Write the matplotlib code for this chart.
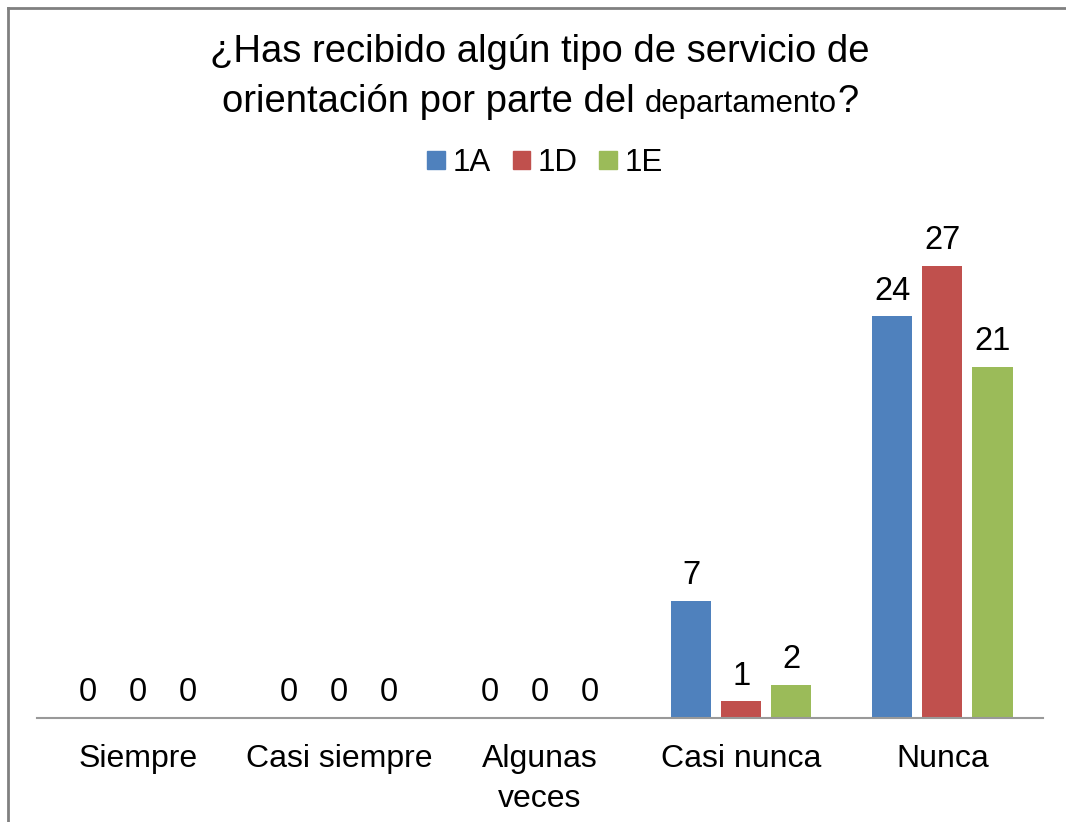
import numpy as np
import matplotlib.pyplot as plt
from matplotlib.patches import Patch
from matplotlib.lines import Line2D

plt.rcParams['font.family'] = ['Liberation Sans', 'DejaVu Sans']

categories = ['Siempre', 'Casi siempre', 'Algunas\nveces', 'Casi nunca', 'Nunca']
series = ['1A', '1D', '1E']
vals_1a = [0, 0, 0, 7, 24]
vals_1d = [0, 0, 0, 1, 27]
vals_1e = [0, 0, 0, 2, 21]
colors = ['#4F81BD', '#C0504D', '#9BBB59']

fig = plt.figure(figsize=(10.66, 8.22), dpi=100)
ax = fig.add_axes([37 / 1066, 104 / 822, 1006 / 1066, 502 / 822])

x = np.arange(len(categories))
width = 0.199
step = 0.249
for i, (vals, name) in enumerate(zip([vals_1a, vals_1d, vals_1e], series)):
    bars = ax.bar(x + (i - 1) * step, vals, width, color=colors[i], label=name)
    ax.bar_label(bars, padding=7, fontsize=23.5)

ax.set_xlim(-0.5, len(categories) - 0.5)
ax.set_ylim(0, 30)
ax.set_xticks(x)
ax.set_xticklabels(categories, fontsize=23, linespacing=1.4)
ax.tick_params(axis='x', length=0, pad=19)
ax.set_yticks([])
for s in ['top', 'right', 'left']:
    ax.spines[s].set_visible(False)
ax.spines['bottom'].set_color('#999999')
ax.spines['bottom'].set_linewidth(1.5)

# legend
handles = [Patch(color=c) for c in colors]
fig.legend(handles, series, loc='center', bbox_to_anchor=(545 / 1066, 1 - 163 / 822),
           ncol=3, frameon=False, fontsize=22.5, handlelength=0.55, handleheight=0.55,
           handletextpad=0.25, columnspacing=0.7)

# title, second line has a smaller word
fig.text(540 / 1066, 1 - 52 / 822, '¿Has recibido algún tipo de servicio de',
         ha='center', va='center', fontsize=27.5)
parts = [('orientación por parte del ', 27.5), ('departamento', 22.4), ('?', 27.5)]
fig.canvas.draw()
r = fig.canvas.get_renderer()
texts = []
for s, fs in parts:
    t = fig.text(0, 0, s, fontsize=fs, va='baseline', ha='left')
    texts.append(t)
widths = [t.get_window_extent(r).width for t in texts]
total = sum(widths)
xpos = 540 - total / 2
for t, w in zip(texts, widths):
    t.set_position((xpos / 1066, 1 - 112 / 822))
    xpos += w

# chart border (left and top only)
fig.add_artist(Line2D([8 / 1066, 8 / 1066], [0, 1 - 8 / 822], color='#808080', lw=2))
fig.add_artist(Line2D([8 / 1066, 1], [1 - 8 / 822, 1 - 8 / 822], color='#808080', lw=2))

fig.savefig('out.png', dpi=100)
